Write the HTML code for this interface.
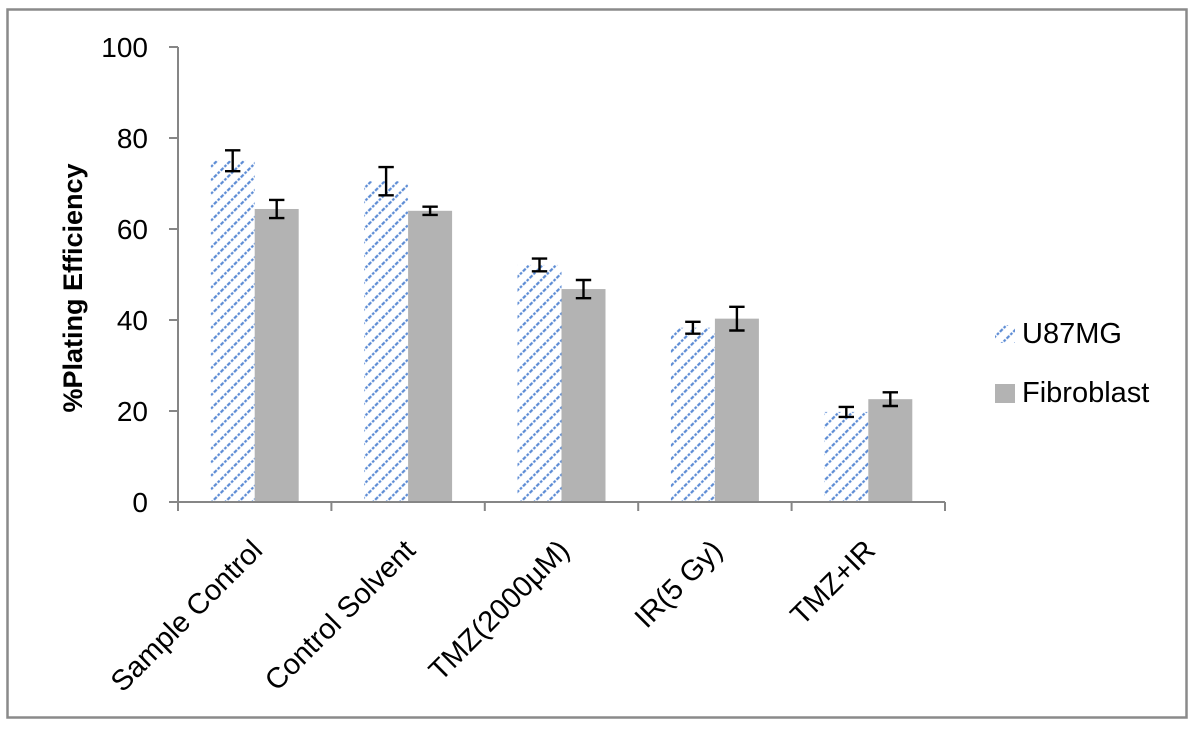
<!DOCTYPE html>
<html>
<head>
<meta charset="utf-8">
<style>
  html, body { margin: 0; padding: 0; background: #fff; }
  svg { display: block; }
  text { font-family: "Liberation Sans", Arial, sans-serif; fill: #000; }
</style>
</head>
<body>
<svg width="1200" height="732" viewBox="0 0 1200 732" xmlns="http://www.w3.org/2000/svg">
  <defs>
    <pattern id="hatch" patternUnits="userSpaceOnUse" width="9.5" height="9.5" patternTransform="rotate(45)">
      <rect width="9.5" height="9.5" fill="#ffffff"/>
      <line x1="1.2" y1="0" x2="1.2" y2="9.5" stroke="#5a8ad4" stroke-width="2.2" stroke-dasharray="2.6 1.5"/>
    </pattern>
  </defs>

  <rect x="0" y="0" width="1200" height="732" fill="#fff"/>
  <!-- outer border -->
  <rect x="7.5" y="9.5" width="1179" height="708" fill="none" stroke="#8a8a8a" stroke-width="2.5"/>

  <!-- bars -->
  <rect x="210.7" y="160.75" width="44" height="341.25" fill="url(#hatch)"/>
  <rect x="254.7" y="208.98" width="44" height="293.02" fill="#b3b3b3"/>
  <rect x="364.1" y="181.23" width="44" height="320.77" fill="url(#hatch)"/>
  <rect x="408.1" y="210.8" width="44" height="291.2" fill="#b3b3b3"/>
  <rect x="517.5" y="264.94" width="44" height="237.06" fill="url(#hatch)"/>
  <rect x="561.5" y="289.06" width="44" height="212.94" fill="#b3b3b3"/>
  <rect x="670.9" y="327.73" width="44" height="174.27" fill="url(#hatch)"/>
  <rect x="714.9" y="318.64" width="44" height="183.36" fill="#b3b3b3"/>
  <rect x="824.3" y="411.91" width="44" height="90.09" fill="url(#hatch)"/>
  <rect x="868.3" y="399.17" width="44" height="102.83" fill="#b3b3b3"/>

  <!-- error bars -->
  <g stroke="#000" stroke-width="2.4" fill="none">
    <path d="M232.7 150.3 V171.2 M225 150.3 H240.4 M225 171.2 H240.4"/>
    <path d="M276.7 199.9 V218.1 M269 199.9 H284.4 M269 218.1 H284.4"/>
    <path d="M386.1 167.1 V195.3 M378.4 167.1 H393.8 M378.4 195.3 H393.8"/>
    <path d="M430.1 206.7 V214.9 M422.4 206.7 H437.8 M422.4 214.9 H437.8"/>
    <path d="M539.5 258.6 V271.3 M531.8 258.6 H547.2 M531.8 271.3 H547.2"/>
    <path d="M583.5 280 V298.2 M575.8 280 H591.2 M575.8 298.2 H591.2"/>
    <path d="M692.9 321.8 V333.7 M685.2 321.8 H700.6 M685.2 333.7 H700.6"/>
    <path d="M736.9 306.8 V330.5 M729.2 306.8 H744.6 M729.2 330.5 H744.6"/>
    <path d="M846.3 406.9 V416.9 M838.6 406.9 H854 M838.6 416.9 H854"/>
    <path d="M890.3 392.3 V406 M882.6 392.3 H898 M882.6 406 H898"/>
  </g>

  <!-- axes -->
  <g stroke="#868686" stroke-width="2" fill="none">
    <path d="M178 47 V502"/>
    <path d="M169 47 H178 M169 138 H178 M169 229 H178 M169 320 H178 M169 411 H178 M169 502 H178"/>
    <path d="M178 502 H945"/>
    <path d="M178 502 V511 M331.4 502 V511 M484.8 502 V511 M638.2 502 V511 M791.6 502 V511 M945 502 V511"/>
  </g>

  <!-- y tick labels -->
  <g font-size="28" text-anchor="end">
    <text x="148" y="57">100</text>
    <text x="148" y="148">80</text>
    <text x="148" y="239">60</text>
    <text x="148" y="330">40</text>
    <text x="148" y="421">20</text>
    <text x="148" y="512">0</text>
  </g>

  <!-- y axis title -->
  <text transform="translate(82,288) rotate(-90)" font-size="27" font-weight="bold" text-anchor="middle" textLength="249" lengthAdjust="spacingAndGlyphs">%Plating Efficiency</text>

  <!-- category labels -->
  <g font-size="29" text-anchor="end">
    <text transform="translate(264,552) rotate(-45)">Sample Control</text>
    <text transform="translate(417,552) rotate(-45)">Control Solvent</text>
    <text transform="translate(571,552) rotate(-45)">TMZ(2000µM)</text>
    <text transform="translate(724,552) rotate(-45)">IR(5 Gy)</text>
    <text transform="translate(877,552) rotate(-45)">TMZ+IR</text>
  </g>

  <!-- legend -->
  <rect x="995" y="325" width="20" height="18" fill="url(#hatch)"/>
  <text x="1022" y="343" font-size="29">U87MG</text>
  <rect x="995" y="384" width="20" height="19" fill="#b3b3b3"/>
  <text x="1022" y="402" font-size="29">Fibroblast</text>
</svg>
</body>
</html>
